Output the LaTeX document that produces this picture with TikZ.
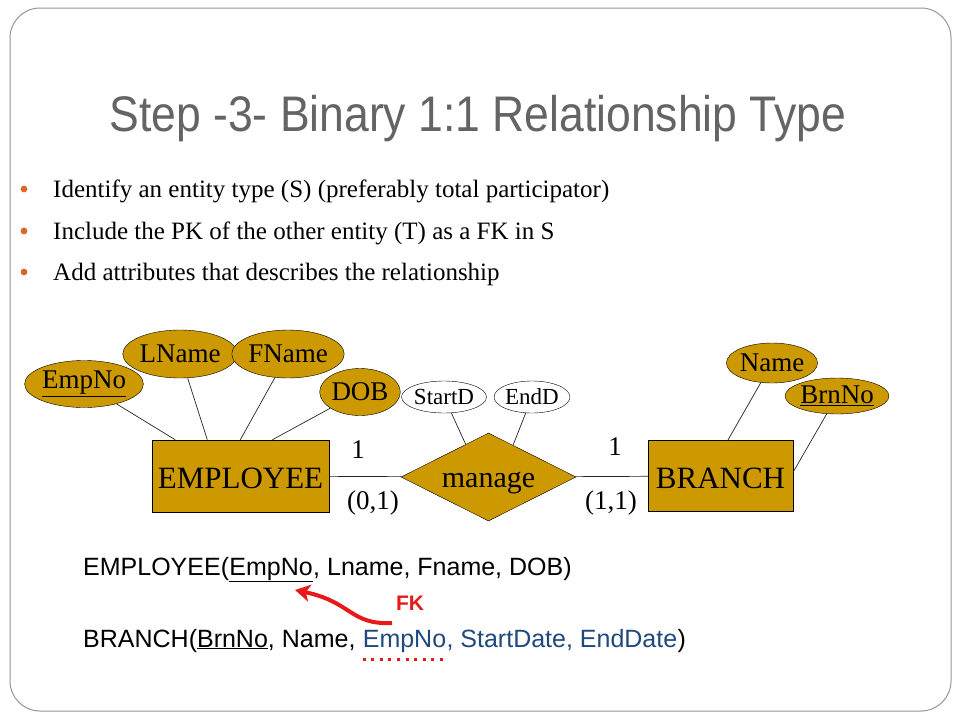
\documentclass[tikz,border=0pt]{standalone}
\usepackage{fontspec}
\setmainfont{Liberation Serif}
\newfontfamily\sansf{Liberation Sans}
\usetikzlibrary{shapes.geometric,arrows.meta,calc}
\definecolor{gold}{RGB}{204,153,0}
\definecolor{titlegray}{RGB}{100,100,100}
\definecolor{bulletor}{RGB}{222,100,40}
\definecolor{fkblue}{RGB}{31,73,125}
\definecolor{fkred}{RGB}{232,25,25}
\definecolor{framegray}{RGB}{150,150,150}
\begin{document}
\begin{tikzpicture}[x=1pt,y=-1pt,
  entity/.style={draw=black, fill=gold, inner sep=0, font=\fontsize{31}{31}\selectfont},
  attr/.style={ellipse, draw=black, fill=gold, inner sep=0, font=\fontsize{27}{27}\selectfont},
  rattr/.style={ellipse, draw=black, fill=white, inner sep=0, font=\fontsize{23}{23}\selectfont},
  conn/.style={draw=black!85, line width=0.7pt},
  card/.style={inner sep=0, font=\fontsize{27}{27}\selectfont},
  bul/.style={anchor=base west, inner sep=0, font=\fontsize{25}{25}\selectfont},
  rel/.style={anchor=base west, inner sep=0, font=\sansf\fontsize{25}{25}\selectfont}]
\useasboundingbox (0,0) rectangle (960,720);
\fill[white] (0,0) rectangle (960,720);
\draw[framegray, line width=1pt, rounded corners=30pt] (10,8) rectangle (951,711);

% title
\node[anchor=base, inner sep=0, text=titlegray, font=\sansf\fontsize{50}{50}\selectfont] (title) at (478,131)
  {\scalebox{0.89}[1]{Step -3- Binary 1:1 Relationship Type}};

% bullets
\fill[bulletor] (24,189) circle (3.4pt);
\fill[bulletor] (24,231) circle (3.4pt);
\fill[bulletor] (24,272) circle (3.4pt);
\node[bul] (b1t) at (53,197) {Identify an entity type (S) (preferably total participator)};
\node[bul] (b2t) at (53,239) {Include the PK of the other entity (T) as a FK in S};
\node[bul] (b3t) at (53,280) {Add attributes that describes the relationship};

% ER diagram
\node[entity, minimum width=177pt, minimum height=72pt, text height=24pt, text depth=0pt] (emp) at (240.5,476) {EMPLOYEE};
\node[entity, minimum width=145pt, minimum height=71pt, text height=24pt, text depth=0pt] (br) at (720.5,476) {BRANCH};
\node[diamond, aspect=2, draw=black, fill=gold, inner sep=0, minimum width=175pt, minimum height=88pt,
      text height=20pt, text depth=0pt, font=\fontsize{30}{30}\selectfont] (mg) at (488.5,477) {manage};

\node[attr, minimum width=88pt, minimum height=47pt] (empno) at (84,384) {\underline{EmpNo}};
\node[attr, minimum width=88pt, minimum height=48pt] (lname) at (180,354) {LName};
\node[attr, minimum width=80pt, minimum height=48pt] (fname) at (288,354) {FName};
\node[attr, minimum width=80pt, minimum height=47pt] (dob) at (360,392) {DOB};
\node[rattr, minimum width=72pt, minimum height=32pt] (startd) at (444,397) {StartD};
\node[rattr, minimum width=72pt, minimum height=32pt] (endd) at (532,397) {EndD};
\node[attr, minimum width=88pt, minimum height=40pt] (name) at (772,363) {Name};
\node[attr, minimum width=90pt, minimum height=36pt] (brnno) at (837,396) {\underline{BrnNo}};

\draw[conn] (empno) -- ([xshift=23.5pt]emp.north west);
\draw[conn] (lname) -- ([xshift=55.5pt]emp.north west);
\draw[conn] (fname) -- ([xshift=88.5pt]emp.north west);
\draw[conn] (dob) -- ([xshift=120.5pt]emp.north west);
\draw[conn] (startd) -- ($(mg.north)!0.26!(mg.west)$);
\draw[conn] (endd) -- ($(mg.north)!0.28!(mg.east)$);
\draw[conn] (name) -- ([xshift=80pt]br.north west);
\draw[conn] (brnno) -- ([yshift=4pt]br.east);
\draw[conn] (emp) -- (mg);
\draw[conn] (mg) -- (br);

\node[card] (c1) at (358,450) {1};
\node[card] (c2) at (373,503) {(0,1)};
\node[card] (c3) at (615,447) {1};
\node[card] (c4) at (611,503) {(1,1)};

% relations
\node[rel] (e1) at (83,575) {EMPLOYEE(};
\node[rel] (e2) at (e1.base east) {\underline{EmpNo}};
\node[rel] (e3) at (e2.base east) {, Lname, Fname, DOB)};

\node[rel] (r1) at (83,647) {BRANCH(\underline{BrnNo}, Name,\ \mbox{}};
\node[rel, text=fkblue] (r2) at (r1.base east) {EmpNo};
\node[rel, text=fkblue] (r3) at (r2.base east) {, StartDate, EndDate};
\node[rel] (r4) at (r3.base east) {)};

\draw[fkred, line width=3pt, dash pattern=on 3pt off 5.6pt] ($(r2.base west)+(0,12)$) -- ($(r2.base east)+(0,12)$);

\node[font=\sansf\bfseries\fontsize{21}{21}\selectfont, text=fkred, inner sep=0] (fk) at (410,603) {FK};
\coordinate (fks) at (392,623);
\coordinate (fke) at (295,590);
\draw[fkred, line width=4pt, -{Stealth[length=15pt,width=17pt,inset=4pt]}] (fks) .. controls (350,625) and (352,602) .. (fke);
\end{tikzpicture}
\end{document}
